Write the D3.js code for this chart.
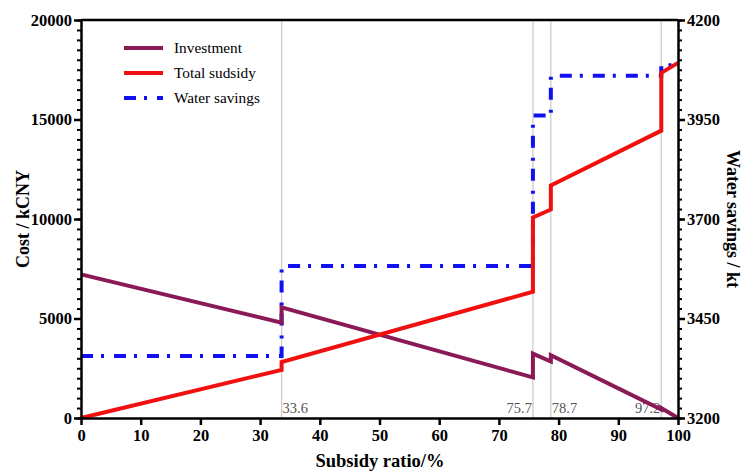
<!DOCTYPE html>
<html>
<head>
<meta charset="utf-8">
<script src="https://cdn.jsdelivr.net/npm/d3@7"></script>
<style>
  body { margin: 0; background: #fff; }
  text { font-family: "Liberation Serif", "Times New Roman", serif; }
</style>
</head>
<body>
<script>
const W = 752, H = 472;

// subsidy ratio breakpoints (each step repeated so the jump is vertical)
const ratio = [0, 33.6, 33.6, 75.7, 75.7, 78.7, 78.7, 97.2, 97.2, 100];
const investment = [7220, 4790, 5560, 2040, 3235, 2840, 3160, 420, 500, 0];
const totalSubsidy = [0, 2420, 2815, 6345, 10075, 10475, 11680, 14440, 17345, 17845];
const waterSavings = [3356, 3356, 3582, 3582, 3960, 3960, 4060, 4060, 4086, 4086];

const markers = [33.6, 75.7, 78.7, 97.2];
const markerAlign = ['start', 'end', 'start', 'end'];

const xTicks = [0, 10, 20, 30, 40, 50, 60, 70, 80, 90, 100];
const costTicks = [0, 5000, 10000, 15000, 20000];
const waterTicks = [3200, 3450, 3700, 3950, 4200];

const m = {left: 81, right: 678, top: 20, bottom: 418};

const x = d3.scaleLinear().domain([0, 100]).range([m.left, m.right]);
const yL = d3.scaleLinear().domain([0, 20000]).range([m.bottom, m.top]);
const yR = d3.scaleLinear().domain([3200, 4200]).range([m.bottom, m.top]);

const svg = d3.select('body').append('svg')
  .attr('width', W).attr('height', H);

// gray reference lines
markers.forEach((v, i) => {
  svg.append('line')
    .attr('x1', x(v)).attr('x2', x(v))
    .attr('y1', m.top).attr('y2', m.bottom)
    .attr('stroke', '#cccccc').attr('stroke-width', 1.3);
  svg.append('text')
    .attr('x', x(v) + (markerAlign[i] === 'start' ? 1 : -1))
    .attr('y', m.bottom - 5)
    .attr('text-anchor', markerAlign[i])
    .attr('font-size', 14.5)
    .attr('fill', '#555')
    .text(v);
});

const pts = (vals) => ratio.map((r, i) => [r, vals[i]]);

const lineL = d3.line().x(d => x(d[0])).y(d => yL(d[1]));
const lineR = d3.line().x(d => x(d[0])).y(d => yR(d[1]));

svg.append('path')
  .attr('d', lineR(pts(waterSavings)))
  .attr('fill', 'none').attr('stroke', '#1010f0')
  .attr('stroke-width', 4).attr('stroke-dasharray', '12,8,3,10');

svg.append('path')
  .attr('d', lineL(pts(investment)))
  .attr('fill', 'none').attr('stroke', '#8a1a56')
  .attr('stroke-width', 4);

svg.append('path')
  .attr('d', lineL(pts(totalSubsidy)))
  .attr('fill', 'none').attr('stroke', '#f01010')
  .attr('stroke-width', 4);

// axes
const axStyle = (g) => {
  g.selectAll('path, line').attr('stroke', '#000').attr('stroke-width', 2.5);
  g.selectAll('text').attr('font-size', 16.5).attr('font-weight', 'bold')
    .attr('font-family', '"Liberation Serif", serif').attr('fill', '#000');
};

// minor ticks
svg.append('g').attr('transform', `translate(${m.left},0)`)
  .call(d3.axisLeft(yL).tickValues(d3.range(0, 20001, 500)).tickSize(4).tickFormat(''))
  .call(g => g.selectAll('line').attr('stroke', '#000').attr('stroke-width', 2))
  .call(g => g.select('.domain').remove());
svg.append('g').attr('transform', `translate(${m.right},0)`)
  .call(d3.axisRight(yR).tickValues(d3.range(3200, 4201, 25)).tickSize(4).tickFormat(''))
  .call(g => g.selectAll('line').attr('stroke', '#000').attr('stroke-width', 2))
  .call(g => g.select('.domain').remove());

svg.append('g').attr('transform', `translate(${m.left},0)`)
  .call(d3.axisLeft(yL).tickValues(costTicks).tickSize(7).tickSizeOuter(0).tickPadding(2).tickFormat(d3.format('d')))
  .call(axStyle);
svg.append('g').attr('transform', `translate(${m.right},0)`)
  .call(d3.axisRight(yR).tickValues(waterTicks).tickSize(7).tickSizeOuter(0).tickPadding(2).tickFormat(d3.format('d')))
  .call(axStyle);
svg.append('g').attr('transform', `translate(0,${m.bottom})`)
  .call(d3.axisBottom(x).tickValues(xTicks).tickSize(7).tickSizeOuter(0).tickPadding(4).tickFormat(d3.format('d')))
  .call(axStyle);

// top frame line
svg.append('line')
  .attr('x1', m.left).attr('x2', m.right)
  .attr('y1', m.top).attr('y2', m.top)
  .attr('stroke', '#000').attr('stroke-width', 2.5);

// titles
svg.append('text')
  .attr('transform', `translate(29,${(m.top + m.bottom) / 2}) rotate(-90)`)
  .attr('text-anchor', 'middle').attr('font-size', 18).attr('font-weight', 'bold')
  .text('Cost / kCNY');
svg.append('text')
  .attr('transform', `translate(727,${(m.top + m.bottom) / 2}) rotate(90)`)
  .attr('text-anchor', 'middle').attr('font-size', 18).attr('font-weight', 'bold')
  .text('Water savings / kt');
svg.append('text')
  .attr('x', 380).attr('y', 467)
  .attr('text-anchor', 'middle').attr('font-size', 18.5).attr('font-weight', 'bold')
  .text('Subsidy ratio/%');

// legend
const legendItems = [
  {name: 'Investment', color: '#8a1a56', dash: null},
  {name: 'Total sudsidy', color: '#f01010', dash: null},
  {name: 'Water savings', color: '#1010f0', dash: '12,8,3,10'}
];
const leg = svg.append('g');
legendItems.forEach((d, i) => {
  const y0 = 48 + i * 25;
  leg.append('line')
    .attr('x1', 124).attr('x2', 163).attr('y1', y0).attr('y2', y0)
    .attr('stroke', d.color).attr('stroke-width', 4)
    .attr('stroke-dasharray', d.dash);
  leg.append('text')
    .attr('x', 174).attr('y', y0 + 5)
    .attr('font-size', 15.3)
    .text(d.name);
});
</script>
</body>
</html>
